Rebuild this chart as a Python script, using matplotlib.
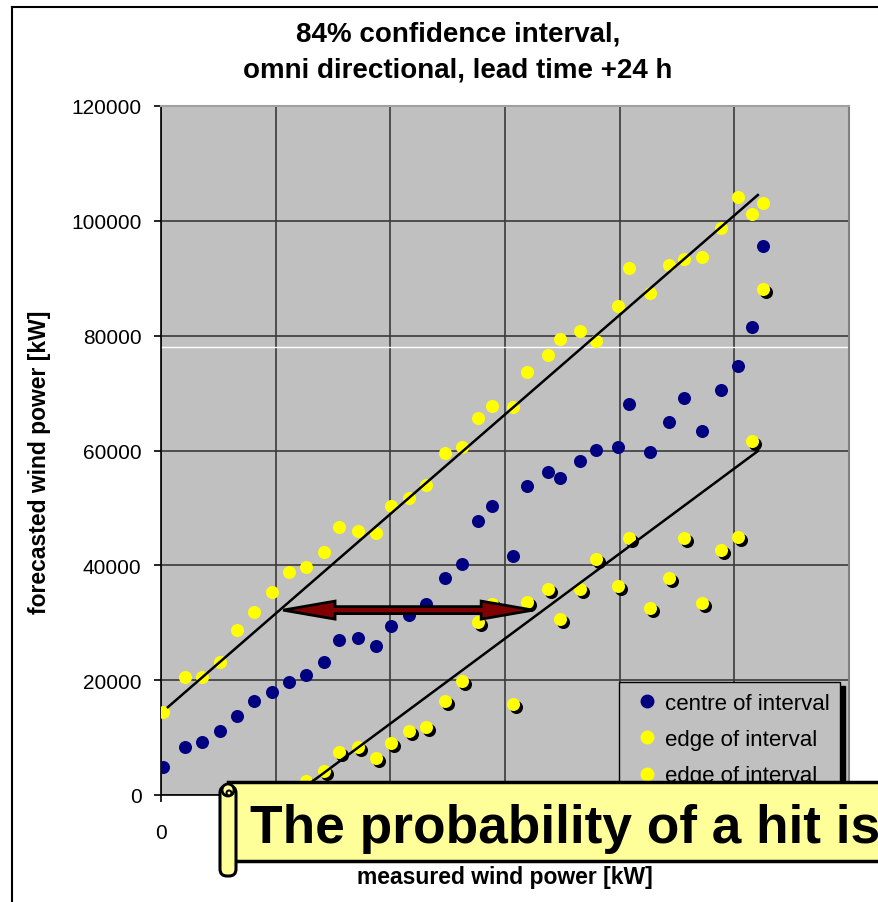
import numpy as np
import matplotlib
matplotlib.use("Agg")
import matplotlib.pyplot as plt
from matplotlib.lines import Line2D
from matplotlib.patches import Rectangle, FancyBboxPatch, Circle, Polygon
from matplotlib.transforms import IdentityTransform, ScaledTranslation

plt.rcParams['font.family'] = ['Liberation Sans', 'DejaVu Sans']

# measured wind power [kW] (x) and forecast values [kW] (y)
measured = [350, 4190, 7150, 10290, 13250, 16220, 19360, 22330, 25290, 28430,
            31050, 34360, 37500, 40120, 43260, 46220, 49540, 52500, 55290, 57730,
            61400, 63840, 67500, 69590, 73080, 75870, 79710, 81630, 85290, 88610,
            91220, 94360, 97670, 100640, 103080, 105000]
centre = [4900, 8360, 9230, 11150, 13760, 16370, 17940, 19680, 20900, 23160,
          27000, 27340, 25950, 29430, 31350, 33260, 37790, 40230, 47720, 50330,
          41620, 53820, 56250, 55210, 58170, 60090, 60610, 68100, 59740, 64960,
          69140, 63390, 70530, 74710, 81510, 95610]
upper_edge = [14460, 20550, 20550, 23160, 28740, 31870, 35350, 38840, 39710, 42320,
              46670, 45980, 45630, 50330, 51730, 53990, 59560, 60610, 65660, 67750,
              67570, 73670, 76630, 79420, 80810, 79070, 85160, 91780, 87430, 92300,
              93350, 93700, 98750, 104150, 101190, 103100]
nan = np.nan
lower_edge = [nan, nan, nan, nan, nan, nan, nan, nan, 2440, 4180,
              7490, 8360, 6440, 9060, 11150, 11840, 16370, 19850, 30130, 33260,
              15850, 33610, 35880, 30650, 35880, 41100, 36400, 44760, 32570, 37790,
              44760, 33440, 42670, 44930, 61650, 88120]

# fitted band lines
upper_line_x = [1200, 104100]
upper_line_y = [15300, 104500]
lower_line_x = [1200, 104100]
lower_line_y = [-16300, 59900]

# double arrow (width of the interval)
arrow_x = [21300, 64900]
arrow_y = 32200

ticks = [0, 20000, 40000, 60000, 80000, 100000, 120000]
# only the "0" label of the x axis is visible, the rest sits under the banner
xtick_labels = ['0', '', '', '', '', '', '']

W, H = 879, 903
fig = plt.figure(figsize=(W / 100, H / 100), dpi=100)
ax = fig.add_axes([161 / W, 1 - 796 / H, 688 / W, 689 / H])
ax.set_facecolor('#C0C0C0')
ax.set_xlim(0, 120000)
ax.set_ylim(0, 120000)
ax.set_xticks(ticks)
ax.set_yticks(ticks)
ax.set_xticklabels(xtick_labels)
ax.set_yticklabels([str(t) for t in ticks])
ax.tick_params(axis='both', direction='out', length=5, width=1.2, labelsize=15, colors='black')
ax.tick_params(axis='y', pad=9)
ax.tick_params(axis='x', pad=15)
ax.grid(True, color='#3a3a3a', linewidth=1.2)
ax.set_axisbelow(True)
for s in ['left', 'bottom']:
    ax.spines[s].set_color('black')
    ax.spines[s].set_linewidth(1.2)
ax.spines['top'].set_color('#a0a0a0')
ax.spines['right'].set_color('#808080')
ax.spines['top'].set_linewidth(1.5)
ax.spines['right'].set_linewidth(1.5)

# white streak across the plot area
ax.axhline(78000, color='white', linewidth=1.0, zorder=1.5)

ms = 88
shadow_tr = ax.transData + ScaledTranslation(3 / 100, -3 / 100, fig.dpi_scale_trans)
ax.scatter(measured, centre, s=ms, color='#000080', linewidths=0, zorder=3)
ax.scatter(measured, upper_edge, s=ms, color='#FFFF00', linewidths=0, zorder=3)
ax.scatter(measured, lower_edge, s=ms, color='black', linewidths=0, zorder=3, transform=shadow_tr)
ax.scatter(measured, lower_edge, s=ms, color='#FFFF00', linewidths=0, zorder=3.1)

ax.plot(upper_line_x, upper_line_y, color='black', linewidth=1.8, zorder=4)
ax.plot(lower_line_x, lower_line_y, color='black', linewidth=1.8, zorder=4)

# double headed arrow built in data units (x and y scales are nearly equal per pixel)
px = 120000 / 689
shaft = 3.5 * px
head_w = 9 * px
head_l = 52 * px
x0, x1 = arrow_x
y = arrow_y
verts = [(x0, y), (x0 + head_l, y + head_w), (x0 + head_l, y + shaft),
         (x1 - head_l, y + shaft), (x1 - head_l, y + head_w), (x1, y),
         (x1 - head_l, y - head_w), (x1 - head_l, y - shaft),
         (x0 + head_l, y - shaft), (x0 + head_l, y - head_w)]
ax.add_patch(Polygon(verts, closed=True, facecolor='#800000', edgecolor='black',
                     linewidth=2, zorder=5))

ax.set_xlabel('measured wind power [kW]', fontsize=16.5, fontweight='bold')
ax.set_ylabel('forecasted wind power [kW]', fontsize=16.5, fontweight='bold')
ax.xaxis.set_label_coords(0.5, -0.102)
ax.yaxis.set_label_coords(-0.16, 0.485)

handles = [
    Line2D([], [], marker='o', linestyle='none', color='#000080', markersize=9),
    Line2D([], [], marker='o', linestyle='none', color='#FFFF00', markersize=9),
    Line2D([], [], marker='o', linestyle='none', color='#FFFF00', markersize=9),
]
labels = ['centre of interval', 'edge of interval', 'edge of interval']
leg = ax.legend(handles, labels, loc='upper left', bbox_to_anchor=(0.6657, 0.164),
                fontsize=16, frameon=True, fancybox=False, facecolor='#C0C0C0',
                edgecolor='black', framealpha=1, borderaxespad=0, borderpad=0.5,
                handlelength=1.5, handletextpad=0.05, labelspacing=0.68,
                shadow={'ox': 3, 'oy': -3, 'color': 'black', 'alpha': 1})
leg.get_frame().set_linewidth(1.0)
leg.set_zorder(6)

# title
fig.text(458 / W, 1 - 42 / H, '84% confidence interval,', ha='center', va='baseline',
         fontsize=20, fontweight='bold')
fig.text(458 / W, 1 - 77 / H, 'omni directional, lead time +24 h', ha='center', va='baseline',
         fontsize=20, fontweight='bold')

# outer chart border
idt = IdentityTransform()
fig.add_artist(Line2D([12, 12], [0, H - 8], color='black', linewidth=1.5, transform=idt))
fig.add_artist(Line2D([12, W], [H - 8, H - 8], color='black', linewidth=1.5, transform=idt))

# scroll banner
ban = '#FFFF99'
fig.add_artist(Rectangle((228, H - 862), 700, 79, facecolor=ban, edgecolor='black',
                         linewidth=2.5, transform=idt, zorder=10))
fig.add_artist(FancyBboxPatch((220, H - 877), 16, 90, boxstyle='round,pad=0,rounding_size=7',
                              facecolor=ban, edgecolor='black', linewidth=2.2,
                              transform=idt, zorder=11))
fig.add_artist(Circle((228, H - 791), 6, facecolor=ban, edgecolor='black', linewidth=2,
                      transform=idt, zorder=12))
fig.add_artist(Circle((229, H - 794), 2.5, facecolor=ban, edgecolor='black', linewidth=1.5,
                      transform=idt, zorder=12))
fig.text(250 / W, 1 - 843 / H, 'The probability of a hit is', ha='left', va='baseline',
         fontsize=38.3, fontweight='bold', zorder=13)

fig.savefig('out.png', dpi=100)
